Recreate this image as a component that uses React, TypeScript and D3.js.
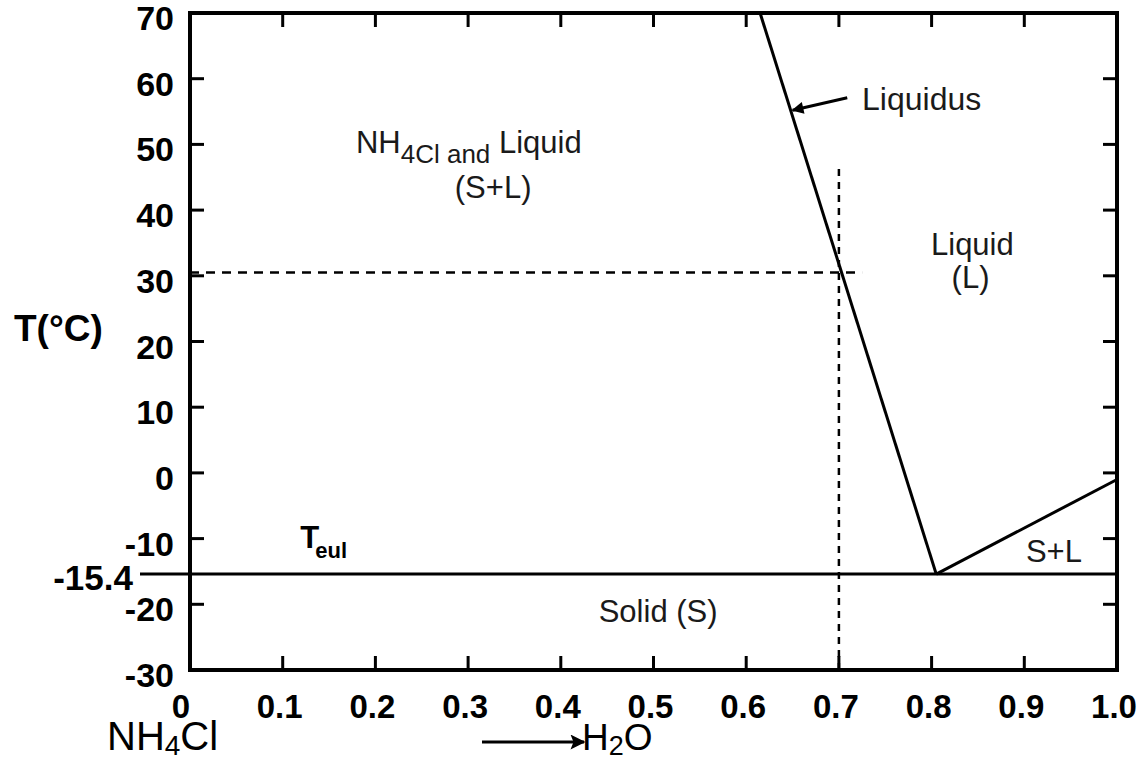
import React, { useEffect, useRef } from 'react';
import * as d3 from 'd3';

// composition (mole fraction H2O) and temperature (°C)
const xTicks = [0, 0.1, 0.2, 0.3, 0.4, 0.5, 0.6, 0.7, 0.8, 0.9, 1.0];
const xTickLabels = ['0', '0.1', '0.2', '0.3', '0.4', '0.5', '0.6', '0.7', '0.8', '0.9', '1.0'];
const yTicks = [70, 60, 50, 40, 30, 20, 10, 0, -10, -20, -30];
const yTickLabels = ['70', '60', '50', '40', '30', '20', '10', '0', '-10', '-20', '-30'];

const liquidusX = [0.615, 0.805];
const liquidusT = [70, -15.4];
const iceLineX = [0.805, 1.0];
const iceLineT = [-15.4, -1];
const eutecticT = -15.4;
const guideX = 0.7;
const guideT = 30.5;
const guideTopT = 46.4;
const guideRightX = 0.725;

const W = 1147;
const H = 760;

const App = () => {
  const ref = useRef<SVGSVGElement>(null);

  useEffect(() => {
    const svg = d3.select(ref.current);
    svg.selectAll('*').remove();

    const x = d3.scaleLinear().domain([0, 1]).range([190, 1117]);
    const y = d3.scaleLinear().domain([-30, 70]).range([670, 13]);
    const font = 'Liberation Sans, Arial, Helvetica, sans-serif';
    const tick = 14;

    const defs = svg.append('defs');
    defs.append('marker')
      .attr('id', 'ah')
      .attr('viewBox', '0 0 10 10')
      .attr('refX', 9).attr('refY', 5)
      .attr('markerWidth', 5).attr('markerHeight', 4)
      .attr('markerUnits', 'strokeWidth')
      .attr('orient', 'auto')
      .append('path').attr('d', 'M0,0L10,5L0,10z').attr('fill', '#000');
    defs.append('marker')
      .attr('id', 'ahBig')
      .attr('viewBox', '0 0 10 10')
      .attr('refX', 9).attr('refY', 5)
      .attr('markerWidth', 7).attr('markerHeight', 5)
      .attr('markerUnits', 'strokeWidth')
      .attr('orient', 'auto')
      .append('path').attr('d', 'M0,0L10,5L0,10L2,5z').attr('fill', '#000');

    // frame
    svg.append('rect')
      .attr('x', x(0)).attr('y', y(70))
      .attr('width', x(1) - x(0)).attr('height', y(-30) - y(70))
      .attr('fill', 'none').attr('stroke', '#000').attr('stroke-width', 4);

    // inward ticks on all sides
    const g = svg.append('g').attr('stroke', '#000').attr('stroke-width', 3);
    xTicks.slice(1, -1).forEach(v => {
      g.append('line').attr('x1', x(v)).attr('x2', x(v)).attr('y1', y(-30)).attr('y2', y(-30) - tick);
      g.append('line').attr('x1', x(v)).attr('x2', x(v)).attr('y1', y(70)).attr('y2', y(70) + tick);
    });
    yTicks.slice(1, -1).forEach(v => {
      g.append('line').attr('x1', x(0)).attr('x2', x(0) + tick).attr('y1', y(v)).attr('y2', y(v));
      g.append('line').attr('x1', x(1)).attr('x2', x(1) - tick).attr('y1', y(v)).attr('y2', y(v));
    });

    // tick labels
    svg.append('g').selectAll('text').data(xTicks).enter().append('text')
      .attr('x', (d, i) => x(d) - (i === 0 ? 9 : 3)).attr('y', 718)
      .attr('text-anchor', 'middle')
      .attr('font-family', font).attr('font-weight', 'bold').attr('font-size', 33)
      .text((d, i) => xTickLabels[i]);
    svg.append('g').selectAll('text').data(yTicks).enter().append('text')
      .attr('x', 174).attr('y', d => y(d) + 17)
      .attr('text-anchor', 'end')
      .attr('font-family', font).attr('font-weight', 'bold').attr('font-size', 34)
      .text((d, i) => yTickLabels[i]);

    // eutectic label with outside tick
    svg.append('line').attr('x1', 140).attr('x2', x(0)).attr('y1', y(eutecticT)).attr('y2', y(eutecticT))
      .attr('stroke', '#000').attr('stroke-width', 3);
    svg.append('text').attr('x', 133).attr('y', y(eutecticT) + 16)
      .attr('text-anchor', 'end')
      .attr('font-family', font).attr('font-weight', 'bold').attr('font-size', 35)
      .text('-15.4');

    // axis title
    svg.append('text').attr('x', 14).attr('y', 341)
      .attr('font-family', font).attr('font-weight', 'bold').attr('font-size', 37)
      .text('T(°C)');

    // phase lines
    const line = d3.line<[number, number]>().x(d => x(d[0])).y(d => y(d[1]));
    const lines = svg.append('g').attr('fill', 'none').attr('stroke', '#000');
    lines.append('path').attr('d', line([[0, eutecticT], [1, eutecticT]])).attr('stroke-width', 3);
    lines.append('path').attr('d', line(liquidusX.map((v, i) => [v, liquidusT[i]]))).attr('stroke-width', 3);
    lines.append('path').attr('d', line(iceLineX.map((v, i) => [v, iceLineT[i]]))).attr('stroke-width', 3);

    // dashed guides
    lines.append('path').attr('d', line([[guideX, -30], [guideX, guideTopT]]))
      .attr('stroke-width', 2.5).attr('stroke-dasharray', '7,6');
    lines.append('path').attr('d', line([[0, guideT], [guideRightX, guideT]]))
      .attr('stroke-width', 2.5).attr('stroke-dasharray', '9,7');

    // Liquidus pointer
    const tEnd = 55.2;
    const xEnd = liquidusX[0] + (liquidusT[0] - tEnd) / (liquidusT[0] - liquidusT[1]) * (liquidusX[1] - liquidusX[0]);
    svg.append('line')
      .attr('x1', x(0.709)).attr('y1', y(57.1))
      .attr('x2', x(xEnd) + 2).attr('y2', y(tEnd))
      .attr('stroke', '#000').attr('stroke-width', 3)
      .attr('marker-end', 'url(#ah)');

    const label = (tx: string, px: number, pt: number, anchor: string, size = 31) =>
      svg.append('text').attr('x', x(px)).attr('y', y(pt))
        .attr('text-anchor', anchor)
        .attr('font-family', font).attr('font-size', size).attr('fill', '#1a1a1a')
        .text(tx);

    label('Liquidus', 0.725, 55.2, 'start', 32);
    label('Liquid', 0.844, 33.2, 'middle');
    label('(L)', 0.842, 28.1, 'middle');
    label('S+L', 0.932, -13.6, 'middle');
    label('Solid (S)', 0.505, -22.7, 'middle');
    label('(S+L)', 0.327, 41.8, 'middle', 31);

    // NH4Cl and Liquid
    const t1 = svg.append('text').attr('x', x(0.179)).attr('y', y(48.7))
      .attr('font-family', font).attr('font-size', 31).attr('fill', '#1a1a1a');
    t1.append('tspan').text('NH');
    t1.append('tspan').attr('font-size', 26).attr('dy', 10).text('4Cl and');
    t1.append('tspan').attr('dy', -10).text(' Liquid');

    // T_eul
    const t2 = svg.append('text').attr('x', x(0.119)).attr('y', y(-11.4))
      .attr('font-family', font).attr('font-weight', 'bold').attr('font-size', 31);
    t2.append('tspan').text('T');
    t2.append('tspan').attr('font-size', 22).attr('dy', 10).attr('dx', -4).text('eul');

    // composition ends
    const t3 = svg.append('text').attr('x', 107).attr('y', 750)
      .attr('font-family', font).attr('font-size', 40);
    t3.append('tspan').text('NH');
    t3.append('tspan').attr('font-size', 28).attr('dy', 5).text('4');
    t3.append('tspan').attr('dy', -5).text('Cl');

    svg.append('line').attr('x1', 482).attr('x2', 584).attr('y1', 742).attr('y2', 742)
      .attr('stroke', '#000').attr('stroke-width', 3)
      .attr('marker-end', 'url(#ahBig)');
    const t4 = svg.append('text').attr('x', 582).attr('y', 750)
      .attr('font-family', font).attr('font-size', 37);
    t4.append('tspan').text('H');
    t4.append('tspan').attr('font-size', 27).attr('dy', 5).text('2');
    t4.append('tspan').attr('dy', -5).text('O');
  }, []);

  return (
    <svg ref={ref} width={W} height={H}
      style={{ position: 'absolute', left: 0, top: 0, background: '#fff' }} />
  );
};

export default App;
